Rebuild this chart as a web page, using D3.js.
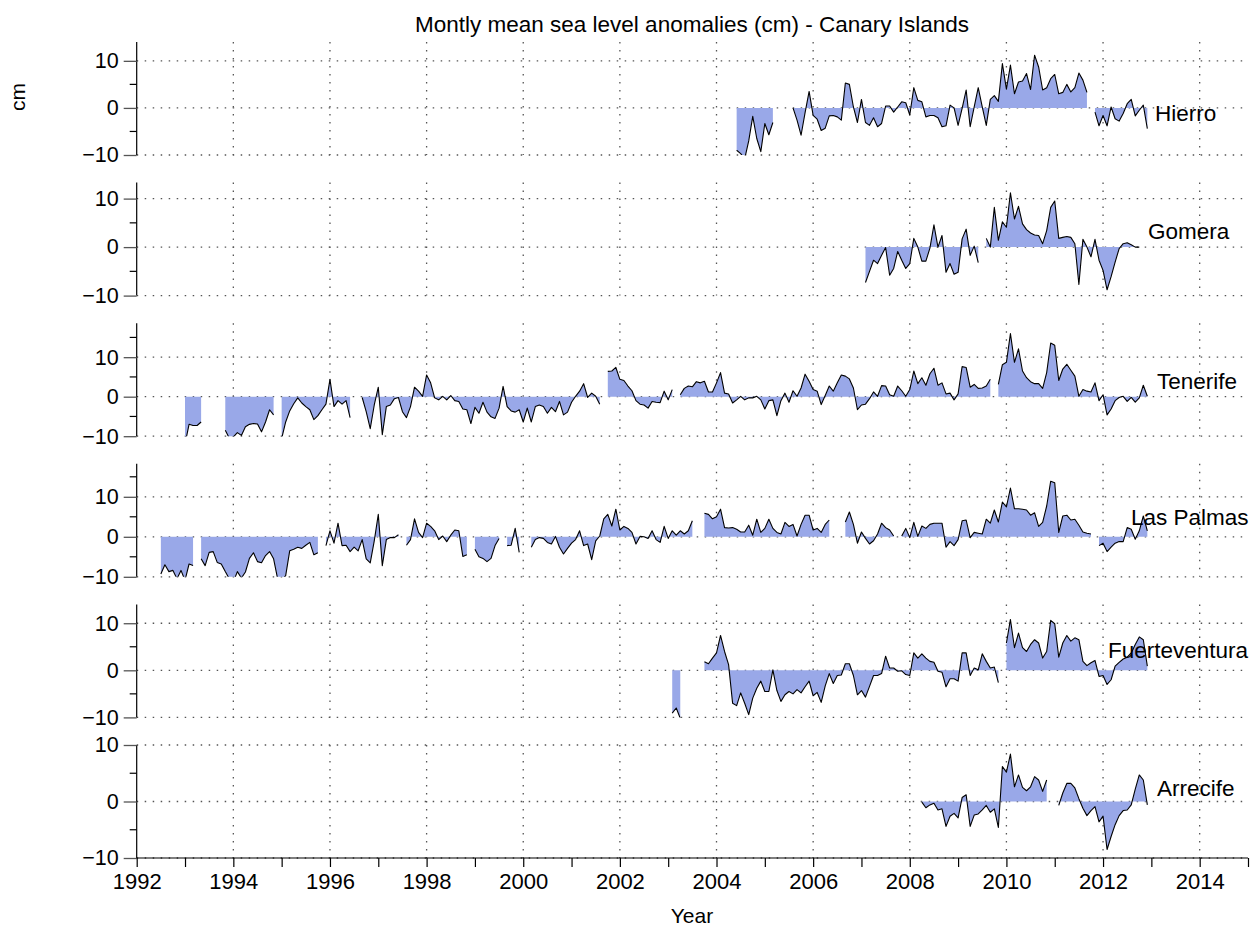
<!DOCTYPE html>
<html>
<head>
<meta charset="utf-8">
<script src="https://cdn.jsdelivr.net/npm/d3@7"></script>
<style>
  body { margin: 0; background: #fff; }
  svg { display: block; }
  text { font-family: "Liberation Sans", Arial, Helvetica, sans-serif; fill: #000; }
</style>
</head>
<body>
<svg id="chart" width="1256" height="926"></svg>
<script>
// Monthly mean sea level anomalies (cm), one array per tide gauge.
// null marks a month with no data.
const stations = ["Hierro", "Gomera", "Tenerife", "Las Palmas", "Fuerteventura", "Arrecife"];

// first month of each record [year, month]
const hierroStart = [2004, 6];
const gomeraStart = [2007, 2];
const tenerifeStart = [1993, 1];
const lasPalmasStart = [1992, 7];
const fuerteventuraStart = [2003, 2];
const arrecifeStart = [2008, 4];

const hierroValues = [
  -9.0, -9.7, -10.8, -7.0, -1.8, -6.5, -9.3, -3.3, -5.7, -3.1,
  null, null, null, null,
  0, -2.6, -5.8, -1.0, 3.5, -1.6, -2.4, -4.8, -4.3, -1.7,
  -1.6, -1.9, -2.6, 5.3, 5.0, 0.2, -3.1, 1.8, -3.1, -3.7,
  -2.1, -4.0, -3.3, 0.4, 0.4, -0.9, 0.2, 1.3, 1.1, -1.5,
  4.3, 1.6, 1.3, -1.9, -1.6, -1.6, -2.1, -4.0, -3.8, 0.6,
  0, -3.7, -0.1, 3.8, -4.0, 0.2, 4.3, 0.2, -3.7, 1.8,
  2.6, 1.4, 9.4, 4.0, 9.1, 3.0, 5.5, 5.7, 7.3, 3.9,
  11.2, 8.7, 3.8, 4.3, 6.2, 7.1, 3.0, 3.3, 5.0, 3.4,
  4.3, 7.4, 5.9, 3.3, null,
  -0.9, -3.8, -1.6, -3.8, 0.2, -2.3, -2.8, -1.2, 0.9, 1.8,
  -1.7, -0.5, 0.6, -4.4
];

const gomeraValues = [
  -7.3, -5.0, -2.7, -3.4, -1.7, -0.1, -5.8, -4.4, -0.9, -2.7,
  -4.4, -3.4, 1.8, 0, -2.9, -2.9, -0.2, 4.6, 0, 2.4,
  -5.2, -3.4, -5.6, -5.2, 1.7, 3.7, -1.7, 0.2, -3.2, null,
  1.8, 0, 8.2, 1.4, 5.2, 4.1, 11.2, 5.8, 8.4, 4.8,
  3.6, 2.9, 2.5, 2.4, 0.7, 3.4, 8.2, 9.5, 1.8, 2.0,
  2.2, 2.0, 0.7, -7.7, 1.6, 0, -2.0, 1.6, -2.7, -4.8,
  -8.8, -6.1, -3.1, -0.3, 0.7, 0.9, 0.5, 0, 0
];

const tenerifeValues = [
  -12.0, -7.0, -7.3, -7.3, -6.4,
  null, null, null, null, null,
  -8.5, -10.5, -10.2, -9.1, -9.8, -7.6, -7.0, -6.8, -6.9, -8.9, -6.4, -3.3, -4.6,
  null,
  -10.6, -6.4, -3.6, -1.8, -0.3, -1.6, -2.5, -3.3, -5.8, -4.8,
  -3.3, -1.9, 4.4, -2.5, -1.0, -1.9, -1.0, -5.3,
  null, null,
  -0.2, -3.8, -8.1, -2.1, 2.4, -9.6, -2.5, -2.1, -0.5, -0.2,
  -3.8, -5.3, -2.5, 2.4, 1.4, 0.1, 5.5, 3.5, -0.3, -0.8,
  0.1, -0.8, 0.3, -1.0, -1.2, -3.1, -3.3, -6.8, -2.7, -4.2,
  -1.4, -3.9,
  -5.1, -5.5, -2.9, 2.6, -2.5, -3.6, -3.9, -3.3, -6.4, -2.9,
  -6.4, -2.5, -2.1, -2.5, -4.2, -2.7, -3.8, -1.2, -4.6, -3.9,
  -1.4, 0.1, 1.4, 3.3, -0.2, 0.9, 0.1, -1.9,
  null,
  6.4, 6.5, 7.4, 4.4, 4.1, 2.7, 1.5, -1.0, -1.9, -2.1,
  -2.9, -1.2, -1.4, -1.5, 1.4, -0.8, 1.8,
  null,
  0.5, 2.1, 2.7, 2.5, 3.8, 3.5, 3.9, 1.2, 1.2, 3.5,
  6.1, 0.9, 0.7, -1.6, -0.8, 0.1, -0.8, -0.3, -0.3, 0.1,
  -0.8, -3.1, -1.0, -0.8, -4.8, -1.0, 0.9, -1.4, 1.5, 0.1,
  2.2, 5.7, 3.9, 1.8, 1.4, -2.0, 0.3, 2.7,
  1.4, 3.5, 5.5, 5.2, 4.5, 2.2, -3.3, -2.1, -1.9, -0.5,
  1.2, 0.1, 2.8, 2.7, 0.5, 0.1, 2.7, 1.5, 0.1, 1.8,
  6.5, 3.3, 4.8, 2.9, 5.8, 7.2, 2.9, 3.5, 0.7, 0.9,
  -0.8, 0.7, 7.6, 7.4, 2.4, 3.1, 2.1, 2.2, 2.7, 4.4,
  null,
  3.1, 8.1, 8.7, 16.0, 8.7, 12.1, 6.5, 4.8, 3.8, 3.3,
  3.3, 2.1, 6.1, 13.6, 13.0, 4.1, 7.0, 8.2, 6.7, 5.2,
  0.1, 1.8, 1.4, 1.2, 3.5, -1.0, 0.5, -4.6, -3.1, -1.0,
  -0.2, 0.1, -1.2, -0.2, -1.4, -0.3, 2.9, 0.1
];

const lasPalmasValues = [
  -9.3, -7.0, -8.7, -8.4, -10.5, -8.4, -10.9, -6.8, -7.2,
  null,
  -5.5, -7.2, -3.9, -3.7, -6.4, -6.8, -8.7, -10.5, -11.3, -8.7,
  -10.3, -8.8, -5.4, -4.0, -6.2, -6.5, -4.7, -3.7, -5.5, -10.5,
  -10.9, -9.7, -3.5, -3.1, -2.6, -2.9, -2.1, -1.4, -4.5, -4.0,
  null,
  -2.2, 1.5, -1.6, 3.4, -2.2, -2.1, -3.7, -2.6, -3.5, -0.7,
  -5.5, -6.5, -1.0, 5.6, -7.2, -0.7, -0.2, -0.2, 0.5,
  null,
  -2.1, -0.7, 4.5, 1.1, -0.2, 3.4, 2.6, 1.5, -0.7, 0.2,
  -1.2, 0.4, 1.7, 1.5, -4.9, -4.5,
  null,
  -3.1, -5.0, -5.4, -6.2, -5.4, -2.2, -0.4,
  null,
  -2.2, -2.1, 2.1, -3.9,
  null, null,
  -2.6, -0.7, -0.2, -0.4, -1.4, -1.8, 0.1, -2.6, -4.3, -2.9,
  -1.6, -0.7, 1.5, -2.2, -1.8, -5.7, -1.0, 0.2, 4.5, 5.6,
  2.7, 6.9, 1.7, 2.6, 2.1, 1.1, -1.8, 0.1, 0, -0.4,
  1.5, -0.7, -1.4, 2.6, -0.4, 1.5, 0.4, 1.5, 0.7, 1.5,
  4.0,
  null, null,
  5.9, 5.6, 4.5, 5.0, 6.9, 2.3, 2.2, 2.3, 1.9, 1.2,
  1.2, 2.9, 0.4, 4.4, 1.1, 2.1, 4.4, 2.1, 1.1, 0.7,
  3.6, 2.6, 3.1, 0.2, 3.1, 5.4, 5.4, 1.7, 2.1, 1.1,
  3.1, 4.2,
  null, null, null,
  3.7, 6.2, 3.1, -1.6, 1.2, -0.4, -1.8, -1.0, 0.7, 3.4,
  2.3, 1.7, 0.2,
  null,
  0.2, 2.1, -0.2, 3.6, 0.1, 2.7, 2.1, 3.1, 3.4, 3.4,
  3.4, -2.6, -1.2, -2.2, -0.7, 4.0, 4.2, -0.2, 1.1, 0.9,
  0.7, 4.4, 3.4, 6.7, 3.7, 8.7, 7.5, 12.2, 7.0, 7.0,
  6.9, 6.7, 5.4, 6.0, 2.6, 3.6, 7.7, 13.9, 13.5, 1.1,
  5.2, 5.4, 4.2, 4.4, 2.9, 1.2, 0.9, 0.7,
  null,
  -2.2, -1.6, -3.7, -2.6, -1.6, -1.2, -1.2, 2.3, 1.9, -0.6,
  1.5, 5.2, 1.5
];

const fuerteventuraValues = [
  -9.1, -8.0, -10.2,
  null, null, null, null, null,
  1.8, 1.4, 2.6, 3.7, 7.4, 4.0, 1.2, -7.0, -7.5, -4.8,
  -7.0, -9.4, -5.9, -3.8, -2.3, -4.5, -4.5, 0.1, -4.3, -6.6,
  -5.2, -4.5, -5.0, -4.1, -4.8, -3.5, -2.3, -5.4, -4.7, -6.8,
  -3.3, -0.7, -2.8, -1.1, -1.0, 1.4, 1.4, -1.1, -5.2, -4.3,
  -5.7, -3.4, -1.1, -1.1, -0.7, 3.0, 0.5, 0.5, -0.2,
  -0.1, -0.9, -1.1, 3.7, 2.6, 3.5, 2.6, 1.9, 1.7, -0.2,
  -0.4, -3.5, -1.8, -1.8, -2.3, 3.7, 3.7, -1.1, 0.5, 0.1,
  3.5, 1.9, 0.5, 0.7, -2.6,
  null,
  5.8, 10.8, 4.8, 7.9, 4.8, 4.0, 5.5, 6.5, 5.8, 2.6,
  4.0, 10.6, 9.9, 2.8, 5.8, 7.4, 6.2, 6.9, 6.5, 1.9,
  1.0, 1.6, 2.1, -1.3, -1.1, -3.0, -2.0, 0.9, 1.7, 2.4,
  2.8, 3.7, 5.5, 7.1, 6.5, 0.9
];

const arrecifeValues = [
  -0.1, -1.1, -0.6, -0.3, -1.5, -1.3, -4.4, -2.6, -2.1, -2.9,
  0.7, 1.2, -4.4, -2.4, -2.2, -1.5, -0.7, -1.9, -1.3, -4.6,
  6.2, 5.2, 8.4, 2.6, 4.7, 2.5, 1.9, 2.6, 4.4, 3.8,
  1.8, 3.8,
  null, null,
  -0.7, 1.5, 3.2, 3.2, 2.4, 0.5, -1.2, -2.5, -1.6, -0.9,
  -3.6, -2.6, -8.5, -6.2, -4.1, -2.5, -1.6, -1.5, -0.6, 2.2,
  4.7, 3.8, -0.6
];

// upper limit of each panel's value axis (lower limit is -10 cm)
const panelMax = [14.0, 13.3, 18.6, 18.25, 14.0, 10.0];
const yearDomain = [1992, 2015];
const yearLabels = [1992, 1994, 1996, 1998, 2000, 2002, 2004, 2006, 2008, 2010, 2012, 2014];
const valueLabels = [10, 0, -10];

const starts = [hierroStart, gomeraStart, tenerifeStart, lasPalmasStart, fuerteventuraStart, arrecifeStart];
const series = [hierroValues, gomeraValues, tenerifeValues, lasPalmasValues, fuerteventuraValues, arrecifeValues];

// ---- layout ----
const svg = d3.select("#chart");
const left = 136.7, right = 1248;
const panelH = 113, firstBottom = 155, panelStep = 140.6;
const fillColor = "#99a8e8";
const gridColor = "#555";

const x = d3.scaleLinear().domain(yearDomain).range([left, right]);

// station label placement (offset from the right end, value level)
const labelSpots = [
  { dx: -93, v: -1.0 },
  { dx: -100, v: 3.3 },
  { dx: -91, v: 4.0 },
  { dx: -117, v: 5.0 },
  { dx: -140, v: 4.2 },
  { dx: -91, v: 2.3 }
];

svg.append("text")
  .attr("x", 692).attr("y", 32)
  .attr("text-anchor", "middle")
  .style("font-size", "22.5px")
  .text("Montly mean sea level anomalies (cm) - Canary Islands");

svg.append("text")
  .attr("transform", "translate(25,97) rotate(-90)")
  .attr("text-anchor", "middle")
  .style("font-size", "21px")
  .text("cm");

stations.forEach((name, k) => {
  const bottom = firstBottom + k * panelStep;
  const y = d3.scaleLinear().domain([-10, panelMax[k]]).range([bottom, bottom - panelH]);
  const g = svg.append("g");

  const [sy, sm] = starts[k];
  const pts = series[k].map((v, i) => ({ t: sy + (sm - 1 + i) / 12, v }));

  // dotted grid
  g.selectAll(".hgrid").data(valueLabels).join("line")
    .attr("x1", left).attr("x2", right)
    .attr("y1", d => y(d)).attr("y2", d => y(d))
    .attr("stroke", gridColor).attr("stroke-width", 1.3)
    .attr("stroke-dasharray", "1.5,6.5");
  g.selectAll(".vgrid").data(yearLabels.slice(1)).join("line")
    .attr("x1", d => x(d)).attr("x2", d => x(d))
    .attr("y1", y(panelMax[k])).attr("y2", y(-10))
    .attr("stroke", gridColor).attr("stroke-width", 1.3)
    .attr("stroke-dasharray", "1.5,6.5");

  const clipId = "clip" + k;
  svg.append("clipPath").attr("id", clipId).append("rect")
    .attr("x", left).attr("y", y(panelMax[k]))
    .attr("width", right - left).attr("height", y(-10) - y(panelMax[k]));

  const area = d3.area()
    .defined(d => d.v !== null)
    .x(d => x(d.t)).y0(y(0)).y1(d => y(d.v));
  const line = d3.line()
    .defined(d => d.v !== null)
    .x(d => x(d.t)).y(d => y(d.v));

  const plot = g.append("g").attr("clip-path", `url(#${clipId})`);
  plot.append("path").attr("d", area(pts)).attr("fill", fillColor);
  plot.append("path").attr("d", line(pts))
    .attr("fill", "none").attr("stroke", "#000").attr("stroke-width", 1.1)
    .attr("stroke-linejoin", "round");

  // value axis with minor ticks every 5 cm
  const minor = d3.range(-5, panelMax[k], 10);
  const yAxis = d3.axisLeft(y).tickValues(valueLabels).tickSize(13).tickPadding(5)
    .tickFormat(d => d < 0 ? "\u2212" + Math.abs(d) : d);
  const ag = g.append("g").attr("transform", `translate(${left},0)`).call(yAxis);
  ag.select(".domain").attr("d", `M0,${y(panelMax[k])}V${y(-10)}`).attr("stroke", "#000").attr("stroke-width", 1.2);
  ag.selectAll(".tick line").attr("stroke", "#555").attr("stroke-width", 1.3);
  ag.selectAll(".tick text").style("font-size", "21.5px").attr("font-family", null);
  ag.selectAll(".minor").data(minor).join("line")
    .attr("x1", -7).attr("x2", 0)
    .attr("y1", d => y(d)).attr("y2", d => y(d))
    .attr("stroke", "#000").attr("stroke-width", 1.2);

  const spot = labelSpots[k];
  g.append("text")
    .attr("x", right + spot.dx).attr("y", y(spot.v))
    .attr("dy", "0.35em")
    .style("font-size", "22.5px")
    .text(name);
});

// time axis under the last panel
const lastBottom = firstBottom + (stations.length - 1) * panelStep;
const xAxis = d3.axisBottom(x).tickValues(d3.range(1992, 2016)).tickSize(9).tickPadding(6)
  .tickFormat(d => yearLabels.includes(d) ? d : "");
const xg = svg.append("g").attr("transform", `translate(0,${lastBottom})`).call(xAxis);
xg.select(".domain").attr("d", `M${left},0H${right}`).attr("stroke", "#000").attr("stroke-width", 1.2);
xg.selectAll(".tick line").attr("stroke", "#000").attr("stroke-width", 1.2);
xg.selectAll(".tick text").style("font-size", "22px").attr("font-family", null);

svg.append("text")
  .attr("x", 692).attr("y", 923)
  .attr("text-anchor", "middle")
  .style("font-size", "21px")
  .text("Year");
</script>
</body>
</html>
